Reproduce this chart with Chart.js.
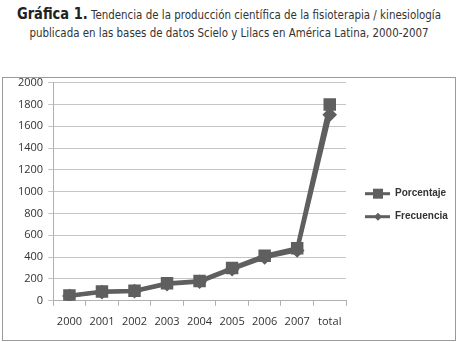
<!DOCTYPE html>
<html>
<head>
<meta charset="utf-8">
<script src="https://cdn.jsdelivr.net/npm/chart.js@4"></script>
<style>
  html, body { margin: 0; padding: 0; background: #fff; }
  body { width: 458px; height: 342px; position: relative; overflow: hidden; }
  .titulo {
    position: absolute; left: -60px; top: 5px; width: 578px;
    text-align: center; color: #333; white-space: nowrap;
    font-family: "DejaVu Sans", sans-serif;
    font-size: 13px; line-height: 18px;
    transform: scaleX(0.79); transform-origin: 50% 0;
  }
  .titulo b { font-size: 16.5px; color: #222; }
  .caja {
    position: absolute; left: 2px; top: 77px;
    width: 452px; height: 262px;
    border: 1px solid #9a9a9a; overflow: hidden;
  }
  .caja canvas { position: absolute; left: 0; top: -7px; }
</style>
</head>
<body>
<div class="titulo">
  <b>Gráfica 1.</b> Tendencia de la producción científica de la fisioterapia / kinesiología<br>
  publicada en las bases de datos Scielo y Lilacs en América Latina, 2000-2007
</div>
<div class="caja"><canvas id="grafica" width="452" height="269"></canvas></div>
<script>
const categorias = ["2000", "2001", "2002", "2003", "2004", "2005", "2006", "2007", "total"];
const porcentaje = [48, 85, 93, 160, 182, 300, 413, 482, 1800];
const frecuencia = [44, 80, 88, 153, 175, 290, 398, 462, 1705];

const gris = "#5f5f5f";

// leyenda dibujada a mano: linea con marcador y texto en negrita
const leyenda = {
  id: "leyenda",
  afterDraw(chart) {
    const ctx = chart.ctx;
    const x0 = chart.chartArea.right + 19;
    const yc = (chart.chartArea.top + chart.chartArea.bottom) / 2;
    const orden = [1, 0];
    orden.forEach((idx, i) => {
      const ds = chart.data.datasets[idx];
      const y = yc + 2 + i * 23;
      ctx.save();
      ctx.strokeStyle = ds.borderColor;
      ctx.lineWidth = 3;
      ctx.beginPath();
      ctx.moveTo(x0, y);
      ctx.lineTo(x0 + 25, y);
      ctx.stroke();
      ctx.fillStyle = ds.pointBackgroundColor;
      ctx.beginPath();
      if (ds.pointStyle === "rect") {
        ctx.rect(x0 + 8, y - 5, 10, 10);
      } else {
        ctx.moveTo(x0 + 13, y - 4);
        ctx.lineTo(x0 + 17, y);
        ctx.lineTo(x0 + 13, y + 4);
        ctx.lineTo(x0 + 9, y);
        ctx.closePath();
      }
      ctx.fill();
      ctx.fillStyle = "#333";
      ctx.font = 'bold 10px "Liberation Sans", sans-serif';
      ctx.textBaseline = "middle";
      ctx.fillText(ds.label, x0 + 30, y);
      ctx.restore();
    });
  }
};

new Chart(document.getElementById("grafica"), {
  type: "line",
  data: {
    labels: categorias,
    datasets: [
      {
        label: "Frecuencia",
        data: frecuencia,
        borderColor: gris,
        borderWidth: 4,
        pointStyle: "rectRot",
        pointRadius: 4.5,
        pointBackgroundColor: gris,
        pointBorderColor: gris,
        tension: 0
      },
      {
        label: "Porcentaje",
        data: porcentaje,
        borderColor: gris,
        borderWidth: 4,
        pointStyle: "rect",
        pointRadius: 6,
        pointBackgroundColor: gris,
        pointBorderColor: gris,
        tension: 0
      }
    ]
  },
  options: {
    responsive: false,
    animation: false,
    layout: { padding: { left: 10, right: 109, top: 0, bottom: 3 } },
    plugins: {
      legend: { display: false },
      tooltip: { enabled: false }
    },
    scales: {
      x: {
        offset: true,
        grid: { display: true, drawOnChartArea: false, drawTicks: true, tickLength: 5, color: "#b0b0b0", offset: true },
        border: { color: "#b0b0b0" },
        ticks: { color: "#333", font: { family: "Open Sans", size: 11 }, padding: 9, maxRotation: 0 }
      },
      y: {
        min: 0,
        max: 2000,
        grid: { color: "#c4c4c4", tickLength: 5 },
        border: { color: "#b0b0b0" },
        ticks: {
          stepSize: 200, color: "#333", font: { family: "Open Sans", size: 11 }, padding: 5,
          callback: (v) => String(v)
        }
      }
    }
  },
  plugins: [leyenda]
});
</script>
</body>
</html>
